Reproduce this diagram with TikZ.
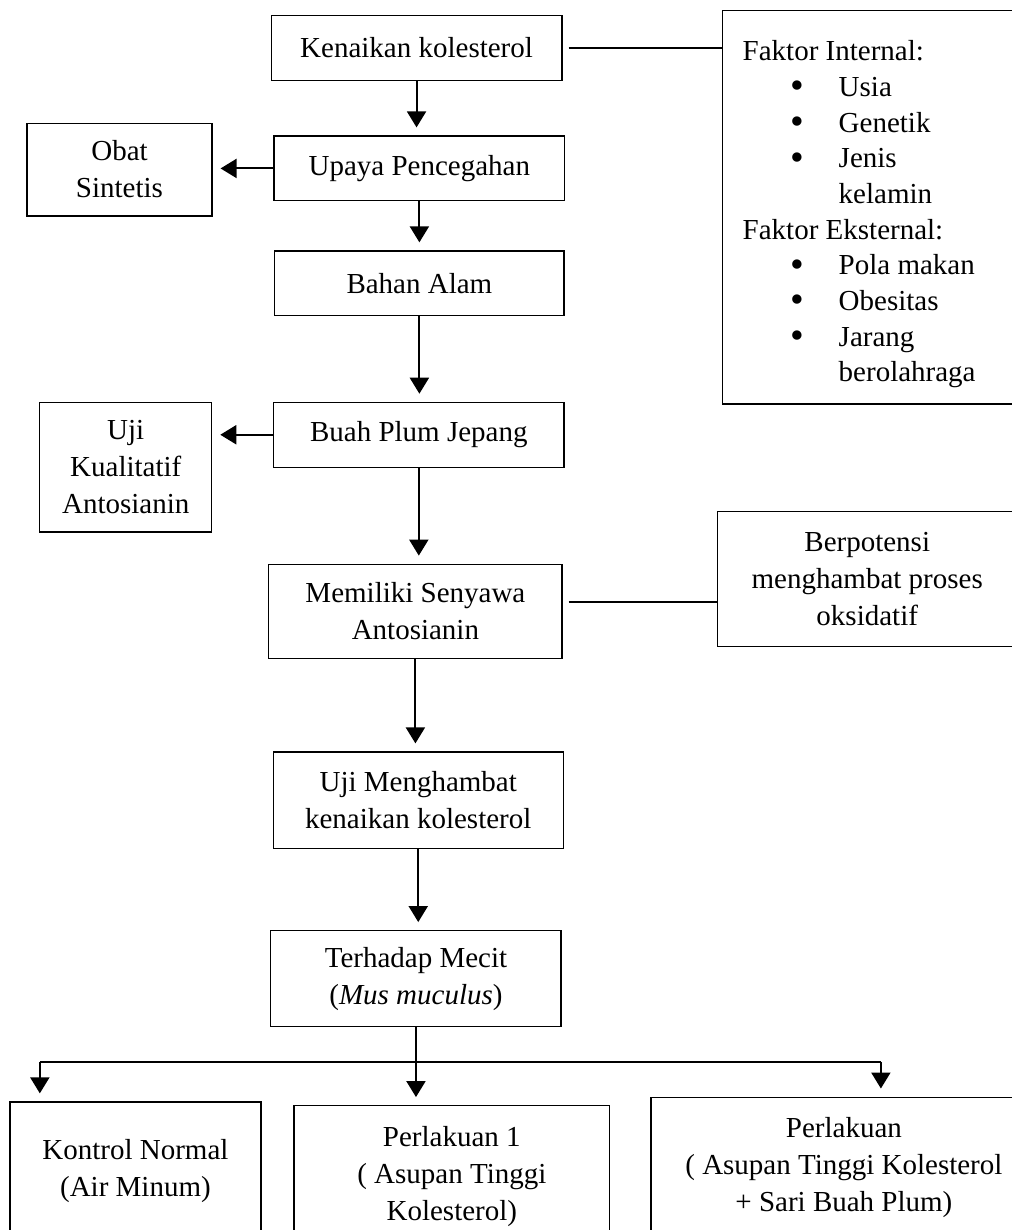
\documentclass[tikz,border=0pt]{standalone}
\usepackage{fontspec}
\setmainfont{Liberation Serif}
\usetikzlibrary{arrows.meta}
\newcommand{\butir}[1]{\hspace*{24pt}\makebox[24pt][l]{\raisebox{-1.2pt}{\scalebox{1.35}{\textbullet}}}#1}
\newcommand{\lanjut}[1]{\hspace*{48pt}#1}
\begin{document}
\begin{tikzpicture}[font=\fontsize{14.5}{18.5}\selectfont,
  kotak/.style={draw, line width=0.6pt, align=center, inner sep=0pt},
  panah/.style={-{Triangle[length=8pt,width=9.5pt]}, line width=1pt, shorten >=4pt},
  garis/.style={line width=0.8pt}]
\useasboundingbox (0,0) rectangle (17.784,-21.615);
\clip (0,0) rectangle (17.784,-21.615);

\node[kotak, minimum width=5.11cm, minimum height=1.14cm] (kenaikan) at (7.32,-0.84) {Kenaikan kolesterol};
\node[kotak, minimum width=5.11cm, minimum height=1.14cm] (upaya) at (7.37,-2.96) {Upaya Pencegahan};
\node[kotak, minimum width=3.25cm, minimum height=1.63cm] (obat) at (2.10,-2.98) {Obat\\Sintetis};
\node[kotak, minimum width=5.08cm, minimum height=1.14cm] (bahan) at (7.37,-4.98) {Bahan Alam};
\node[kotak, minimum width=5.10cm, minimum height=1.14cm] (buah) at (7.36,-7.64) {Buah Plum Jepang};
\node[kotak, minimum width=3.02cm, minimum height=2.28cm] (ujikual) at (2.21,-8.21) {Uji\\Kualitatif\\Antosianin};
\node[kotak, minimum width=5.15cm, minimum height=1.65cm] (memiliki) at (7.30,-10.74) {Memiliki Senyawa\\Antosianin};
\node[kotak, minimum width=5.27cm, minimum height=2.37cm] (berpotensi) at (15.24,-10.18) {Berpotensi\\menghambat proses\\oksidatif};
\node[kotak, minimum width=5.10cm, minimum height=1.69cm] (ujimeng) at (7.35,-14.06) {Uji Menghambat\\kenaikan kolesterol};
\node[kotak, minimum width=5.10cm, minimum height=1.69cm] (terhadap) at (7.31,-17.20) {Terhadap Mecit\\(\textit{Mus muculus})};
\node[kotak, minimum width=4.41cm, minimum height=2.43cm] (kontrol) at (2.38,-20.58) {Kontrol Normal\\(Air Minum)};
\node[kotak, minimum width=5.55cm, minimum height=2.50cm] (perlakuan1) at (7.94,-20.68) {Perlakuan 1\\( Asupan Tinggi\\Kolesterol)};
\node[kotak, minimum width=6.78cm, minimum height=2.46cm] (perlakuan2) at (14.83,-20.51) {Perlakuan\\( Asupan Tinggi Kolesterol\\+ Sari Buah Plum)};

\node[kotak, anchor=north west, minimum width=5.27cm, minimum height=6.91cm, text width=130pt, align=flush left, inner xsep=10pt, font=\fontsize{14.5}{17.85}\selectfont] (faktor) at (12.69,-0.18) {\rule{0pt}{17pt}Faktor Internal:\\
\butir{Usia}\\
\butir{Genetik}\\
\butir{Jenis}\\
\lanjut{kelamin}\\
Faktor Eksternal:\\
\butir{Pola makan}\\
\butir{Obesitas}\\
\butir{Jarang}\\
\lanjut{berolahraga}};

\coordinate (cabang) at ([yshift=4.5pt]memiliki.east);
\coordinate (kiri) at (0.70,-18.66);
\coordinate (kanan) at (15.48,-18.66);

\draw[panah] (kenaikan.south) -- (kenaikan.south |- upaya.north);
\draw[panah] (upaya.south) -- (upaya.south |- bahan.north);
\draw[panah] (bahan.south) -- (bahan.south |- buah.north);
\draw[panah] (buah.south) -- (buah.south |- memiliki.north);
\draw[panah] (memiliki.south) -- (memiliki.south |- ujimeng.north);
\draw[panah] (ujimeng.south) -- (ujimeng.south |- terhadap.north);
\draw[panah] (upaya.west) -- (upaya.west -| obat.east);
\draw[panah] (buah.west) -- (buah.west -| ujikual.east);
\draw[garis, shorten <=3pt] (kenaikan.east) -- (kenaikan.east -| faktor.west);
\draw[garis, shorten <=3pt] (cabang) -- (cabang -| berpotensi.west);

\draw[garis] (kiri) -- (kanan);
\draw[panah] (terhadap.south) -- (terhadap.south |- perlakuan1.north);
\draw[panah] (kiri) -- (kiri |- kontrol.north);
\draw[panah] (kanan) -- (kanan |- perlakuan2.north);
\end{tikzpicture}
\end{document}
